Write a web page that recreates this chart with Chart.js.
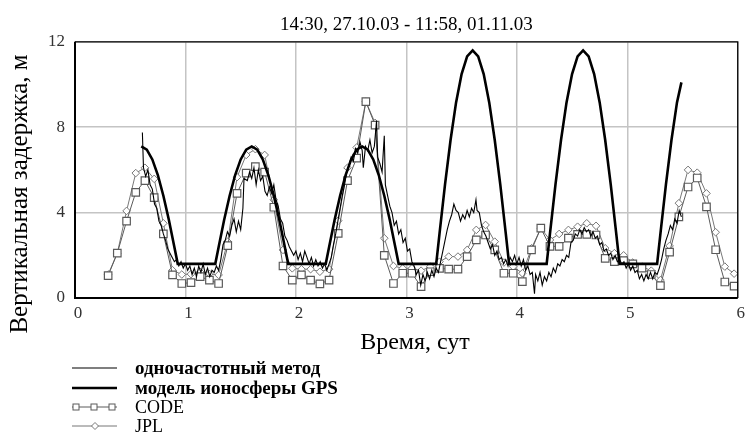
<!DOCTYPE html>
<html>
<head>
<meta charset="utf-8">
<title>Вертикальная задержка</title>
<script src="https://cdn.jsdelivr.net/npm/chart.js@4.4.1/dist/chart.umd.min.js"></script>
<style>
  html, body { margin: 0; padding: 0; background: #fff; }
  #wrap { width: 747px; height: 448px; }
</style>
</head>
<body>
<div id="wrap"><canvas id="delayChart" width="747" height="448"></canvas></div>
<script>
// ==============================
// DATA
// ==============================
const titleText = "14:30, 27.10.03 - 11:58, 01.11.03";
const xAxisTitle = "Время, сут";
const yAxisTitle = "Вертикальная задержка, м";
const xTicks = [0, 1, 2, 3, 4, 5, 6];
const yTicks = [0, 4, 8, 12];

// одночастотный метод (noisy thin line)
const singleFreqTime = [
  0.61, 0.62, 0.64, 0.66, 0.68, 0.70, 0.72, 0.74, 0.76, 0.78, 0.80, 0.82, 0.84, 0.86, 0.88, 0.90, 0.92, 0.94,
  0.96, 0.98, 1.00, 1.02, 1.04, 1.06, 1.08, 1.10, 1.12, 1.14, 1.16, 1.18, 1.20, 1.22, 1.24, 1.26, 1.28, 1.30,
  1.32, 1.34, 1.36, 1.38, 1.40, 1.42, 1.44, 1.46, 1.48, 1.50, 1.52, 1.53, 1.56, 1.58, 1.60, 1.62, 1.64, 1.66,
  1.68, 1.70, 1.72, 1.74, 1.76, 1.78, 1.80, 1.82, 1.84, 1.86, 1.88, 1.90, 1.92, 1.94, 1.96, 1.98, 2.00, 2.02,
  2.04, 2.06, 2.08, 2.10, 2.12, 2.14, 2.16, 2.18, 2.20, 2.22, 2.24, 2.26, 2.28, 2.30,
  2.32, 2.34, 2.36, 2.38, 2.40, 2.42, 2.44, 2.46, 2.48, 2.50, 2.52, 2.54, 2.56, 2.58, 2.60, 2.61, 2.63, 2.65,
  2.67, 2.69, 2.71, 2.73, 2.74, 2.76, 2.78, 2.80, 2.81, 2.83, 2.85, 2.87, 2.89, 2.91, 2.93, 2.95, 2.97, 2.99,
  3.01, 3.03, 3.05, 3.07, 3.09, 3.11, 3.13, 3.15, 3.17, 3.19, 3.21, 3.23, 3.25, 3.27, 3.29, 3.31,
  3.33, 3.35, 3.37, 3.39, 3.41, 3.43, 3.45, 3.47, 3.49, 3.51, 3.53, 3.55, 3.57, 3.59, 3.61, 3.63, 3.64, 3.66,
  3.68, 3.70, 3.72, 3.74, 3.76, 3.78, 3.80, 3.82, 3.84, 3.86, 3.88, 3.90, 3.92, 3.94, 3.96, 3.98, 4.00, 4.02,
  4.04, 4.06, 4.08, 4.10, 4.12, 4.14,
  4.16, 4.17, 4.19, 4.21, 4.23, 4.25, 4.27, 4.29, 4.31, 4.33, 4.35, 4.37, 4.39, 4.41, 4.43, 4.45, 4.47, 4.49,
  4.51, 4.53, 4.55, 4.57, 4.59, 4.61, 4.63, 4.65, 4.67, 4.69, 4.71, 4.73, 4.75, 4.77, 4.79, 4.81, 4.83, 4.85,
  4.87, 4.89, 4.91, 4.93, 4.95, 4.97, 4.99, 5.01, 5.03, 5.05, 5.07, 5.09, 5.11, 5.13, 5.15, 5.17, 5.19, 5.21,
  5.23, 5.25, 5.27, 5.29, 5.31, 5.33, 5.35, 5.37, 5.39, 5.41, 5.43, 5.45, 5.47, 5.49
];
const singleFreqDelay = [
  7.75, 6.1, 5.7, 6.0, 5.3, 5.1, 4.4, 4.2, 3.6, 3.4, 3.0, 2.7, 2.3, 2.1, 1.9, 1.7, 1.8, 1.5,
  1.7, 1.4, 1.6, 1.3, 1.5, 1.1, 1.4, 1.0, 1.5, 1.2, 1.6, 1.1, 1.4, 1.0, 1.3, 1.2, 1.5, 1.3,
  1.8, 2.5, 2.7, 3.1, 2.9, 3.4, 3.7, 3.1, 3.6, 3.2, 4.2, 5.6, 5.5, 5.9, 5.6, 6.1, 5.3, 6.0,
  5.5, 5.7, 5.0, 4.8, 5.2, 4.9, 5.3, 4.6, 4.3, 3.7, 3.5, 2.9, 2.7, 2.4, 2.2, 2.0, 2.2, 1.8,
  2.1, 1.7, 2.2, 1.9, 1.6, 1.9, 1.5, 1.8, 1.5, 1.7, 1.4, 1.6, 1.3, 1.6,
  1.9, 2.5, 3.0, 3.6, 4.2, 4.8, 5.3, 5.9, 6.2, 6.6, 6.4, 7.0, 6.8, 7.3, 6.9, 6.1, 7.1, 6.9,
  7.4, 6.8, 7.1, 8.3, 6.6, 6.3, 5.9, 7.6, 5.3, 4.8, 4.3, 4.0, 3.4, 3.6, 3.0, 3.2, 2.6, 2.8,
  2.2, 2.3, 1.7, 1.5, 1.1, 1.3, 0.6, 1.1, 0.8, 1.2, 0.9, 1.3, 1.0, 1.4, 1.2, 1.7,
  2.2, 2.7, 3.2, 3.6, 3.9, 4.4, 4.1, 4.0, 3.6, 3.9, 3.7, 4.1, 3.8, 4.2, 4.0, 4.6, 4.1, 4.0,
  3.4, 3.1, 2.9, 2.6, 2.3, 2.5, 2.0, 2.2, 1.8, 1.9, 1.6, 1.8, 1.5, 1.9, 1.7, 2.0, 1.6, 1.9,
  1.5, 1.8, 1.3, 1.5, 1.1, 1.2,
  0.2, 1.1, 0.8, 1.2, 0.6, 1.0, 0.8, 1.2, 1.0, 1.4, 1.2, 1.6, 1.5, 1.8, 1.7, 2.0, 1.9, 2.6,
  2.7, 3.0, 2.9, 3.2, 3.0, 3.3, 3.1, 3.2, 2.9, 3.1, 2.8, 2.9, 2.5, 2.6, 2.2, 2.3, 2.0, 2.1,
  1.8, 2.0, 1.7, 1.8, 1.6, 1.7, 1.4, 1.6, 1.3, 1.5, 1.2, 1.3, 0.9, 1.1, 0.8, 1.1, 0.9, 1.2,
  0.9, 1.2, 1.1, 1.4, 1.8, 2.3, 2.7, 3.0, 3.4, 3.2, 3.7, 3.5, 4.1, 3.8
];

// модель ионосферы GPS (thick line)
const gpsModelTime = [
  0.60, 0.65, 0.70, 0.75, 0.80, 0.85, 0.90, 0.93,
  1.27, 1.30, 1.35, 1.40, 1.45, 1.50, 1.55, 1.60, 1.65, 1.70, 1.75, 1.80, 1.85, 1.90, 1.93,
  2.27, 2.30, 2.35, 2.40, 2.45, 2.50, 2.55, 2.60, 2.65, 2.70, 2.75, 2.80, 2.85, 2.90, 2.93,
  3.27, 3.30, 3.35, 3.40, 3.45, 3.50, 3.55, 3.60, 3.65, 3.70, 3.75, 3.80, 3.85, 3.90, 3.93,
  4.27, 4.30, 4.35, 4.40, 4.45, 4.50, 4.55, 4.60, 4.65, 4.70, 4.75, 4.80, 4.85, 4.90, 4.93,
  5.27, 5.30, 5.35, 5.40, 5.45, 5.49
];
const gpsModelDelay = [
  7.1, 6.95, 6.49, 5.76, 4.79, 3.65, 2.38, 1.6,
  1.6, 2.38, 3.65, 4.79, 5.76, 6.49, 6.95, 7.1, 6.95, 6.49, 5.76, 4.79, 3.65, 2.38, 1.6,
  1.6, 2.38, 3.65, 4.79, 5.76, 6.49, 6.95, 7.1, 6.95, 6.49, 5.76, 4.79, 3.65, 2.38, 1.6,
  1.6, 3.02, 5.32, 7.40, 9.16, 10.49, 11.32, 11.6, 11.32, 10.49, 9.16, 7.40, 5.32, 3.02, 1.6,
  1.6, 3.02, 5.32, 7.40, 9.16, 10.49, 11.32, 11.6, 11.32, 10.49, 9.16, 7.40, 5.32, 3.02, 1.6,
  1.6, 3.02, 5.32, 7.40, 9.16, 10.1
];

// CODE and JPL maps, every 2 hours
const igsTime = [
  0.300, 0.383, 0.467, 0.550, 0.633, 0.717, 0.800, 0.883, 0.967, 1.050, 1.133, 1.217, 1.300, 1.383,
  1.467, 1.550, 1.633, 1.717, 1.800, 1.883, 1.967, 2.050, 2.133, 2.217, 2.300, 2.383, 2.467, 2.550,
  2.633, 2.717, 2.800, 2.883, 2.967, 3.050, 3.133, 3.217, 3.300, 3.383, 3.467, 3.550, 3.633, 3.717,
  3.800, 3.883, 3.967, 4.050, 4.133, 4.217, 4.300, 4.383, 4.467, 4.550, 4.633, 4.717, 4.800, 4.883,
  4.967, 5.050, 5.133, 5.217, 5.300, 5.383, 5.467, 5.550, 5.633, 5.717, 5.800, 5.883, 5.967
];
const codeDelay = [
  1.05, 2.1, 3.6, 4.95, 5.5, 4.7, 3.0, 1.08, 0.68, 0.72,
  1.0, 0.84, 0.68, 2.45, 4.9, 5.85, 6.15, 5.9, 4.25, 1.5,
  0.84, 1.08, 0.84, 0.66, 0.84, 3.03, 5.5, 6.55, 9.2, 8.1,
  2.0, 0.68, 1.16, 1.16, 0.53, 1.23, 1.39, 1.35, 1.35, 1.94,
  2.72, 2.95, 2.25, 1.16, 1.16, 0.77, 2.25, 3.27, 2.42, 2.42,
  2.8, 2.98, 2.98, 2.95, 1.86, 1.7, 1.75, 1.6, 1.4, 1.1,
  0.58, 2.15, 3.8, 5.2, 5.62, 4.27, 2.26, 0.75, 0.56
];
const jplDelay = [
  1.1, 2.1, 4.08, 5.85, 6.1, 5.58, 3.5, 1.3, 1.1, 1.12,
  1.22, 1.13, 1.08, 2.64, 5.66, 6.7, 6.97, 6.7, 4.6, 2.25,
  1.39, 1.35, 1.35, 1.23, 1.35, 3.62, 6.1, 7.05, 9.2, 8.2,
  2.8, 1.5, 1.39, 1.39, 1.28, 1.47, 1.7, 1.94, 1.94, 2.25,
  3.19, 3.42, 2.64, 1.66, 1.47, 1.16, 2.33, 3.27, 2.72, 3.0,
  3.19, 3.34, 3.5, 3.38, 2.33, 2.1, 2.0, 1.66, 1.47, 1.28,
  0.84, 2.44, 4.44, 6.0, 5.87, 4.9, 3.08, 1.47, 1.14
];

const serif = "'Liberation Serif', 'Times New Roman', serif";

function toPoints(xs, ys) {
  return xs.map((x, i) => ({ x: x, y: ys[i] }));
}

// ==============================
// AXIS TITLES, LEGEND, FRAME
// ==============================
function drawSquare(ctx, x, y, half) {
  ctx.fillStyle = "#fff";
  ctx.fillRect(x - half, y - half, half * 2, half * 2);
  ctx.strokeRect(x - half, y - half, half * 2, half * 2);
}

function drawDiamond(ctx, x, y, r) {
  ctx.beginPath();
  ctx.moveTo(x - r, y);
  ctx.lineTo(x, y - r);
  ctx.lineTo(x + r, y);
  ctx.lineTo(x, y + r);
  ctx.closePath();
  ctx.fillStyle = "#fff";
  ctx.fill();
  ctx.stroke();
}

const decorPlugin = {
  id: "decor",
  afterDatasetsDraw(chart) {
    const { ctx, chartArea: a } = chart;
    ctx.save();
    ctx.strokeStyle = "#000";
    ctx.lineWidth = 1.3;
    ctx.beginPath();
    ctx.moveTo(a.left, a.top);
    ctx.lineTo(a.right, a.top);
    ctx.lineTo(a.right, a.bottom);
    ctx.stroke();
    ctx.lineWidth = 2;
    ctx.beginPath();
    ctx.moveTo(a.left, a.top);
    ctx.lineTo(a.left, a.bottom);
    ctx.lineTo(a.right, a.bottom);
    ctx.stroke();
    ctx.restore();
  },
  afterDraw(chart) {
    const ctx = chart.ctx;
    ctx.save();
    ctx.fillStyle = "#000";

    // y title, rotated
    ctx.save();
    ctx.translate(27, 194);
    ctx.rotate(-Math.PI / 2);
    ctx.font = "25px " + serif;
    ctx.textAlign = "center";
    ctx.textBaseline = "alphabetic";
    ctx.fillText(yAxisTitle, 0, 0);
    ctx.restore();

    // x title
    ctx.font = "24px " + serif;
    ctx.textAlign = "center";
    ctx.textBaseline = "middle";
    ctx.fillText(xAxisTitle, 415, 343);

    // legend
    const rows = [368, 388, 407, 426];
    const x0 = 72, x1 = 117, tx = 135;
    const ds = chart.data.datasets;
    ctx.textAlign = "left";
    ctx.textBaseline = "middle";
    ds.forEach((d, i) => {
      const y = rows[i];
      ctx.strokeStyle = d.borderColor;
      ctx.lineWidth = d.borderWidth;
      ctx.beginPath();
      ctx.moveTo(x0, y);
      ctx.lineTo(x1, y);
      ctx.stroke();
      ctx.lineWidth = 1;
      if (d.pointStyle === "rect") {
        [76, 94, 112].forEach(px => drawSquare(ctx, px, y, 3));
      } else if (d.pointStyle === "rectRot") {
        drawDiamond(ctx, 95, y, 3.5);
      }
      ctx.fillStyle = "#000";
      ctx.font = (i < 2 ? "bold 19px " : "18px ") + serif;
      ctx.fillText(d.label, tx, y + 1);
    });
    ctx.restore();
  }
};

// ==============================
// CHART
// ==============================
const ctx = document.getElementById("delayChart");

const delayChart = new Chart(ctx, {
  type: "line",
  data: {
    datasets: [
      {
        label: "одночастотный метод",
        data: toPoints(singleFreqTime, singleFreqDelay),
        borderColor: "#000",
        borderWidth: 1.1,
        pointRadius: 0,
        order: 2
      },
      {
        label: "модель ионосферы GPS",
        data: toPoints(gpsModelTime, gpsModelDelay),
        borderColor: "#000",
        borderWidth: 2.6,
        pointRadius: 0,
        order: 1
      },
      {
        label: "CODE",
        data: toPoints(igsTime, codeDelay),
        borderColor: "#5a5a5a",
        borderWidth: 1,
        pointStyle: "rect",
        pointRadius: 5.3,
        pointBorderColor: "#5a5a5a",
        pointBackgroundColor: "#fff",
        pointBorderWidth: 1.2,
        order: 3
      },
      {
        label: "JPL",
        data: toPoints(igsTime, jplDelay),
        borderColor: "#777",
        borderWidth: 1,
        pointStyle: "rectRot",
        pointRadius: 3.8,
        pointBorderColor: "#777",
        pointBackgroundColor: "#fff",
        pointBorderWidth: 1,
        order: 4
      }
    ]
  },
  options: {
    responsive: false,
    animation: false,
    layout: { padding: { right: 8 } },
    plugins: {
      legend: { display: false },
      tooltip: { enabled: false },
      title: {
        display: true,
        fullSize: false,
        text: titleText,
        color: "#000",
        font: { family: serif, size: 19, weight: "normal" },
        padding: { top: 14, bottom: 5 }
      }
    },
    scales: {
      x: {
        type: "linear",
        min: 0,
        max: 6,
        afterFit(scale) { scale.height = 150; },
        afterBuildTicks(scale) { scale.ticks = xTicks.map(v => ({ value: v })); },
        grid: { color: "#c4c4c4", lineWidth: 1.5, drawTicks: false },
        border: { display: false },
        ticks: {
          color: "#333",
          padding: 5,
          labelOffset: 3,
          maxRotation: 0,
          font: { family: serif, size: 17 }
        }
      },
      y: {
        type: "linear",
        min: 0,
        max: 12,
        afterFit(scale) { scale.width = 75; },
        afterBuildTicks(scale) { scale.ticks = yTicks.map(v => ({ value: v })); },
        grid: { color: "#c4c4c4", lineWidth: 1.5, drawTicks: false },
        border: { display: false },
        ticks: {
          color: "#333",
          padding: 10,
          font: { family: serif, size: 17 }
        }
      }
    }
  },
  plugins: [decorPlugin]
});
</script>
</body>
</html>
